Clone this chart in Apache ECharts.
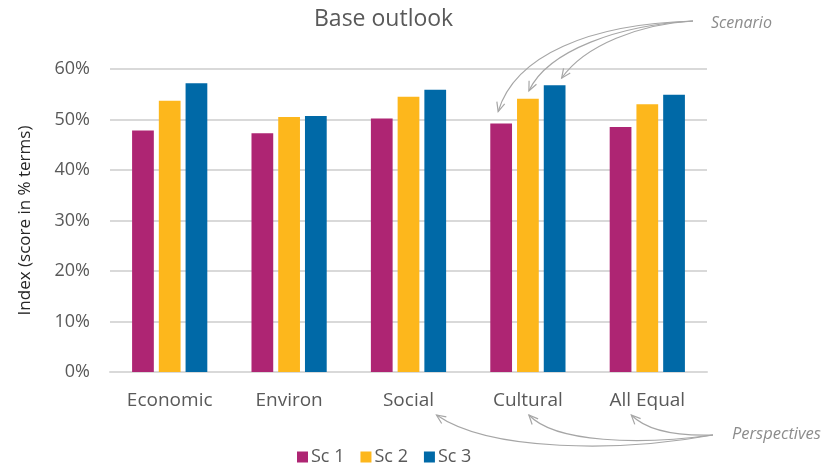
<!DOCTYPE html>
<html>
<head>
<meta charset="utf-8">
<title>Base outlook</title>
<script src="https://cdn.jsdelivr.net/npm/echarts@6/dist/echarts.min.js"></script>
<style>
  html, body { margin: 0; padding: 0; background: #ffffff; }
  #chart { width: 826px; height: 468px; }
</style>
</head>
<body>
<div id="chart"></div>
<script>
// Perspectives on the category axis
const categories = ['Economic', 'Environ', 'Social', 'Cultural', 'All Equal'];
// Scenario names (legend)
const seriesNames = ['Sc 1', 'Sc 2', 'Sc 3'];
// Index scores, % terms
const sc1 = [47.8, 47.3, 50.2, 49.2, 48.5];
const sc2 = [53.7, 50.5, 54.5, 54.1, 53.0];
const sc3 = [57.2, 50.7, 55.9, 56.8, 54.9];
// Value axis ticks
const yTicks = [0, 10, 20, 30, 40, 50, 60];

const FONT = '"Open Sans", "Noto Sans", sans-serif';
const colors = ['#AE2573', '#FDB71C', '#0069A7'];
const values = [sc1, sc2, sc3];

const chart = echarts.init(document.getElementById('chart'), null, { renderer: 'canvas' });

const option = {
  animation: false,
  textStyle: { fontFamily: FONT },
  title: {
    text: 'Base outlook',
    left: 309,
    top: 3,
    textStyle: { fontFamily: FONT, fontSize: 23, fontWeight: 'normal', color: '#595959' }
  },
  grid: { left: 110, right: 119, top: 69, bottom: 96, containLabel: false },
  legend: {
    data: seriesNames,
    left: 292,
    top: 443,
    icon: 'rect',
    itemWidth: 11,
    itemHeight: 11,
    itemGap: 16,
    textStyle: { fontFamily: FONT, fontSize: 18, color: '#595959', padding: [0, 0, 0, -2] }
  },
  xAxis: {
    type: 'category',
    data: categories,
    axisTick: { show: false },
    axisLine: { show: true, lineStyle: { color: '#d9d9d9', width: 2 } },
    axisLabel: { margin: 19, fontFamily: FONT, fontSize: 19, color: '#595959' }
  },
  yAxis: {
    type: 'value',
    min: yTicks[0],
    max: yTicks[yTicks.length - 1],
    interval: yTicks[1] - yTicks[0],
    name: 'Index (score in % terms)',
    nameLocation: 'middle',
    nameGap: 76,
    nameTextStyle: { fontFamily: FONT, fontSize: 17, color: '#262626' },
    axisLine: { show: false },
    axisTick: { show: false },
    axisLabel: { formatter: '{value}%', margin: 20, fontFamily: FONT, fontSize: 18, color: '#595959' },
    splitLine: { lineStyle: { color: '#d9d9d9', width: 2 } }
  },
  series: seriesNames.map((name, k) => ({
    name: name,
    type: 'bar',
    data: values[k],
    barGap: '23%',
    barCategoryGap: '37%',
    itemStyle: { color: colors[k] }
  }))
};

chart.setOption(option);

// Annotation arrows: "Scenario" pointing at the Cultural bars,
// "Perspectives" pointing at the category labels.
function chevron(tip, from, len, spread) {
  const ang = Math.atan2(tip[1] - from[1], tip[0] - from[0]);
  const a1 = ang + Math.PI - spread, a2 = ang + Math.PI + spread;
  return [
    [tip[0] + len * Math.cos(a1), tip[1] + len * Math.sin(a1)],
    tip,
    [tip[0] + len * Math.cos(a2), tip[1] + len * Math.sin(a2)]
  ];
}

function curveArrow(p0, c1, c2, p3) {
  const style = { stroke: '#a6a6a6', lineWidth: 1.2, fill: null };
  return [
    { type: 'bezierCurve', silent: true, z: 100,
      shape: { x1: p0[0], y1: p0[1], cpx1: c1[0], cpy1: c1[1], cpx2: c2[0], cpy2: c2[1], x2: p3[0], y2: p3[1] },
      style: style },
    { type: 'polyline', silent: true, z: 100,
      shape: { points: chevron(p3, c2, 10, 0.42) },
      style: style }
  ];
}

function barTop(seriesIndex, dataIndex) {
  const data = chart.getModel().getSeriesByIndex(seriesIndex).getData();
  const l = data.getItemLayout(dataIndex);
  return [l.x + l.width / 2, Math.min(l.y, l.y + l.height)];
}

const cult = categories.indexOf('Cultural');
const s0 = [693, 21];
const t1 = barTop(0, cult), t2 = barTop(1, cult), t3 = barTop(2, cult);
const tip1 = [t1[0] - 3, t1[1] - 12];
const tip2 = [t2[0] + 1, t2[1] - 8];
const tip3 = [t3[0] + 7, t3[1] - 7];

const axisY = chart.convertToPixel({ yAxisIndex: 0 }, 0);
const catX = (name) => chart.convertToPixel({ xAxisIndex: 0 }, name);
const p0 = [713, 435];
const ly = axisY + 43;
const tipSoc = [catX('Social') + 28, ly];
const tipCul = [catX('Cultural') + 1, ly];
const tipAll = [catX('All Equal') - 16, ly];

const graphics = [].concat(
  curveArrow(s0, [590, 24], [515, 55], tip1),
  curveArrow(s0, [620, 25], [548, 50], tip2),
  curveArrow(s0, [640, 24], [585, 45], tip3),
  curveArrow(p0, [620, 452], [490, 452], tipSoc),
  curveArrow(p0, [640, 445], [555, 443], tipCul),
  curveArrow(p0, [680, 436], [648, 432], tipAll),
  [
    { type: 'text', silent: true, left: 711, top: 15,
      style: { text: 'Scenario', fontFamily: FONT, fontSize: 16, fontStyle: 'italic', fill: '#8c8c8c' } },
    { type: 'text', silent: true, left: 732, top: 426,
      style: { text: 'Perspectives', fontFamily: FONT, fontSize: 16.5, fontStyle: 'italic', fill: '#8c8c8c' } }
  ]
);

chart.setOption({ graphic: graphics });
</script>
</body>
</html>
